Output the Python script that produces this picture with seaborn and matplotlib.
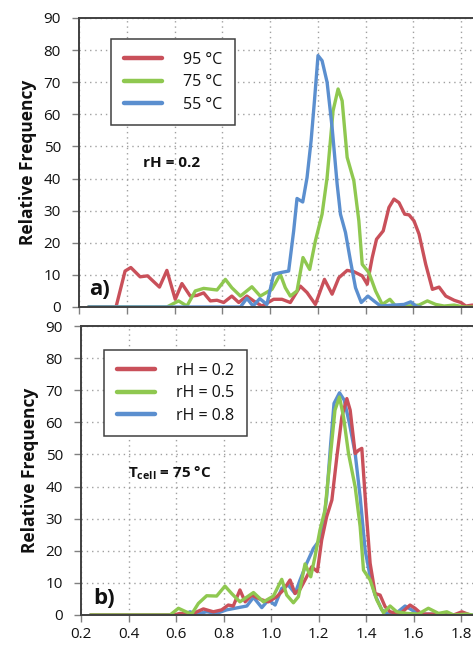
import matplotlib
matplotlib.use("Agg")
import matplotlib.pyplot as plt
import seaborn as sns
import pandas as pd

# ---- panel a) : rH = 0.2, three cell temperatures ----
a_labels = ["95 °C", "75 °C", "55 °C"]

a95_x = [0.24, 0.355, 0.393, 0.417, 0.456, 0.487, 0.537, 0.568, 0.603, 0.631, 0.666, 0.694,
         0.722, 0.75, 0.778, 0.806, 0.84, 0.869, 0.903, 0.931, 0.966, 1.015,
         1.05, 1.085, 1.127, 1.155, 1.19, 1.228, 1.26, 1.288, 1.323, 1.351,
         1.386, 1.407, 1.428, 1.446, 1.474, 1.498, 1.519, 1.54, 1.564, 1.582,
         1.603, 1.624, 1.652, 1.68, 1.708, 1.736, 1.771, 1.799, 1.82, 1.848]
a95_y = [0, 0, 11.2, 12.3, 9.4, 9.7, 6.2, 11.4, 2.4, 7.3, 3.4, 3.6,
         4.4, 1.9, 2.1, 1.4, 3.4, 1.4, 3.4, 1.9, 0.3, 2.4,
         2.4, 1.4, 6.5, 4.5, 0.8, 8.6, 4.0, 9.1, 11.4, 11.0,
         9.7, 7.1, 15.4, 21.1, 23.7, 31.0, 33.6, 32.5, 28.9, 28.7,
         26.8, 22.7, 13.3, 5.5, 6.2, 3.4, 2.1, 1.4, 0.3, 0.6]

a75_x = [0.24, 0.568, 0.617, 0.652, 0.687, 0.722, 0.778, 0.813, 0.84, 0.876,
         0.924, 0.959, 1.008, 1.043, 1.064, 1.085, 1.113, 1.138, 1.166, 1.19,
         1.218, 1.239, 1.264, 1.285, 1.302, 1.323, 1.351, 1.372, 1.386, 1.414,
         1.442, 1.47, 1.502, 1.526, 1.575, 1.624, 1.659, 1.694, 1.729, 1.771,
         1.813, 1.848]
a75_y = [0, 0, 1.9, 0.3, 5.0, 5.8, 5.3, 8.6, 6.0, 3.4,
         6.3, 3.4, 5.5, 10.2, 6.0, 3.4, 5.0, 15.4, 11.7, 20.6,
         28.9, 40.3, 61.1, 67.9, 64.2, 46.6, 39.3, 26.8, 13.3, 10.7,
         5.0, 0.8, 2.4, 0.3, 0.3, 0.6, 1.9, 0.8, 0.3, 0.6,
         0, 0]

a55_x = [0.24, 0.876, 0.903, 0.929, 0.957, 0.987, 1.015, 1.043, 1.078, 1.099,
         1.113, 1.137, 1.155, 1.172, 1.186, 1.201, 1.218, 1.239, 1.26, 1.281,
         1.295, 1.316, 1.337, 1.358, 1.382, 1.41, 1.435, 1.463, 1.519, 1.561,
         1.589, 1.617, 1.63]
a55_y = [0, 0, 2.7, 0.3, 2.6, 0.8, 10.2, 10.7, 11.2, 23.7,
         33.8, 32.7, 40.3, 51.8, 64.2, 78.3, 76.7, 70.0, 55.9, 38.3,
         28.9, 23.2, 14.3, 6.0, 1.4, 3.4, 1.9, 0.3, 0.6, 0.8,
         1.6, 0, 0]

# ---- panel b) : Tcell = 75 °C, three humidities ----
b_labels = ["rH = 0.2", "rH = 0.5", "rH = 0.8"]

b02_x = [0.24, 0.589, 0.617, 0.645, 0.673, 0.715, 0.757, 0.792, 0.82, 0.841,
         0.869, 0.891, 0.919, 0.954, 0.989, 1.024, 1.052, 1.08, 1.101, 1.122,
         1.15, 1.171, 1.195, 1.213, 1.234, 1.256, 1.277, 1.298, 1.319, 1.333,
         1.354, 1.368, 1.382, 1.4, 1.417, 1.438, 1.459, 1.48, 1.501, 1.543,
         1.585, 1.606, 1.634, 1.683, 1.726, 1.768, 1.803, 1.838]
b02_y = [0, 0, 0.5, 0.3, 0.5, 1.9, 1.0, 1.6, 3.1, 2.8,
         7.8, 4.1, 6.2, 4.9, 4.1, 5.7, 7.8, 10.9, 6.7, 8.0,
         11.9, 15.0, 13.5, 23.3, 30.6, 35.8, 49.3, 61.7, 67.4, 63.8,
         50.3, 51.3, 51.9, 32.7, 16.1, 6.7, 6.2, 2.6, 1.0, 0.3,
         3.1, 2.1, 0.3, 0.3, 0, 0, 1.0, 0]

b05_x = [0.24, 0.575, 0.61, 0.642, 0.666, 0.694, 0.729, 0.771, 0.806, 0.834,
         0.869, 0.926, 0.968, 1.01, 1.045, 1.066, 1.094, 1.115, 1.143, 1.167,
         1.185, 1.206, 1.227, 1.248, 1.269, 1.288, 1.305, 1.326, 1.354, 1.375,
         1.389, 1.417, 1.445, 1.473, 1.501, 1.529, 1.571, 1.62, 1.662, 1.705,
         1.74, 1.768, 1.824, 1.848]
b05_y = [0, 0, 2.1, 1.0, 0.3, 3.6, 6.0, 5.9, 9.0, 6.7,
         4.1, 7.0, 4.1, 5.9, 11.1, 6.2, 3.8, 5.7, 15.9, 11.9,
         18.2, 26.5, 32.7, 48.2, 63.8, 67.9, 61.7, 50.3, 39.9, 27.5,
         14.0, 10.9, 4.7, 0.7, 2.8, 1.0, 0.5, 0.3, 2.1, 0.5,
         1.0, 0, 0.3, 0]

b08_x = [0.24, 0.631, 0.659, 0.687, 0.729, 0.771, 0.813, 0.848, 0.898, 0.926,
         0.961, 0.989, 1.017, 1.045, 1.073, 1.101, 1.122, 1.15, 1.178, 1.199,
         1.22, 1.234, 1.251, 1.265, 1.288, 1.308, 1.33, 1.354, 1.375, 1.396,
         1.417, 1.438, 1.466, 1.494, 1.529, 1.564, 1.592, 1.62, 1.848]
b08_y = [0, 0, 1.0, 0.3, 1.0, 0.5, 1.6, 2.1, 2.8, 5.5,
         2.3, 4.7, 3.1, 8.3, 9.3, 6.7, 10.9, 16.1, 20.7, 22.8,
         28.5, 36.8, 53.4, 65.9, 69.2, 66.9, 59.6, 50.3, 36.8, 20.2,
         11.9, 6.2, 1.6, 0.3, 0.7, 2.8, 1.6, 0.3, 0]

x_ticks = [0.2, 0.4, 0.6, 0.8, 1.0, 1.2, 1.4, 1.6, 1.8]
y_ticks = [0, 10, 20, 30, 40, 50, 60, 70, 80, 90]

RED, GREEN, BLUE = "#c9505a", "#8fc850", "#5b8fcf"
AX_COLOR = "#404040"

sns.set_theme(style="white")
plt.rcParams["font.family"] = ["Open Sans", "DejaVu Sans"]
plt.rcParams["mathtext.fontset"] = "custom"
plt.rcParams["mathtext.rm"] = "Open Sans"
plt.rcParams["mathtext.bf"] = "Open Sans:bold"


def long_frame(xs, ys, labels):
    parts = []
    for x, y, lab in zip(xs, ys, labels):
        parts.append(pd.DataFrame({"x": x, "y": y, "series": lab}))
    return pd.concat(parts, ignore_index=True)


df_a = long_frame([a95_x, a75_x, a55_x], [a95_y, a75_y, a55_y], a_labels)
df_b = long_frame([b02_x, b05_x, b08_x], [b02_y, b05_y, b08_y], b_labels)

W, H = 473, 646
fig = plt.figure(figsize=(W / 100, H / 100), dpi=100)
ax_a = fig.add_axes([79 / W, 1 - 307 / H, (W - 79) / W, 289 / H])
ax_b = fig.add_axes([81 / W, 1 - 615 / H, (W - 81) / W, 289 / H])


def style_axes(ax):
    ax.set_xlim(0.2, 1.85)
    ax.set_ylim(0, 90)
    ax.set_xticks(x_ticks)
    ax.set_yticks(y_ticks)
    ax.grid(True, color="#a0a0a0", linestyle=(0, (1.0, 2.8)), linewidth=1.0)
    ax.set_axisbelow(True)
    for side in ("left", "top", "bottom"):
        ax.spines[side].set_visible(True)
        ax.spines[side].set_color(AX_COLOR)
        ax.spines[side].set_linewidth(1.4)
    ax.spines["right"].set_visible(False)
    ax.tick_params(axis="both", direction="out", length=5, width=1.0,
                   color="#808080", labelsize=11, labelcolor="#111111",
                   bottom=True, left=True)
    ax.tick_params(axis="y", pad=8)
    ax.tick_params(axis="x", pad=4)
    ax.set_ylabel("Relative Frequency", fontsize=12.5, fontweight="bold",
                  color="#111111", labelpad=5)
    ax.set_xlabel("")


def draw_panel(ax, df, order, colors, draw_order):
    pal = dict(zip(order, colors))
    for lab in draw_order:
        sub = df[df["series"] == lab]
        sns.lineplot(data=sub, x="x", y="y", color=pal[lab], linewidth=2.4,
                     sort=False, estimator=None, ax=ax, legend=False,
                     solid_joinstyle="round", solid_capstyle="round")
    handles = [plt.Line2D([], [], color=pal[lab], linewidth=3.2,
                          solid_capstyle="round") for lab in order]
    return handles


legend_kw = dict(loc="upper left", borderaxespad=0, frameon=True, fancybox=False,
                 framealpha=1, edgecolor=AX_COLOR, fontsize=11.5, handlelength=2.4,
                 handletextpad=1.3, labelspacing=0.4, borderpad=0.8)

h_a = draw_panel(ax_a, df_a, a_labels, [RED, GREEN, BLUE], a_labels)
style_axes(ax_a)
ax_a.tick_params(axis="x", labelbottom=False)
leg_a = ax_a.legend(h_a, a_labels, bbox_to_anchor=(0.081, 0.927), **legend_kw)
leg_a.get_frame().set_linewidth(1.1)
for t in leg_a.get_texts():
    t.set_color("#111111")
ax_a.text(0.468, 44.9, "rH = 0.2", fontsize=11, fontweight="bold",
          va="center", ha="left", color="#111111")
ax_a.text(0.243, 5.3, "a)", fontsize=16, fontweight="bold",
          va="center", ha="left", color="#111111")

h_b = draw_panel(ax_b, df_b, b_labels, [RED, GREEN, BLUE],
                 ["rH = 0.8", "rH = 0.2", "rH = 0.5"])
style_axes(ax_b)
ax_b.set_xticklabels([f"{v:.1f}" for v in x_ticks])
leg_b = ax_b.legend(h_b, b_labels, bbox_to_anchor=(0.059, 0.917), **legend_kw)
leg_b.get_frame().set_linewidth(1.1)
for t in leg_b.get_texts():
    t.set_color("#111111")
ax_b.text(0.398, 44.2, r"$\mathbf{T}_{\mathbf{cell}}$ = 75 °C", fontsize=11,
          fontweight="bold", va="center", ha="left", color="#111111")
ax_b.text(0.25, 5.0, "b)", fontsize=16, fontweight="bold",
          va="center", ha="left", color="#111111")

fig.savefig("out.png", dpi=100, facecolor="white")
